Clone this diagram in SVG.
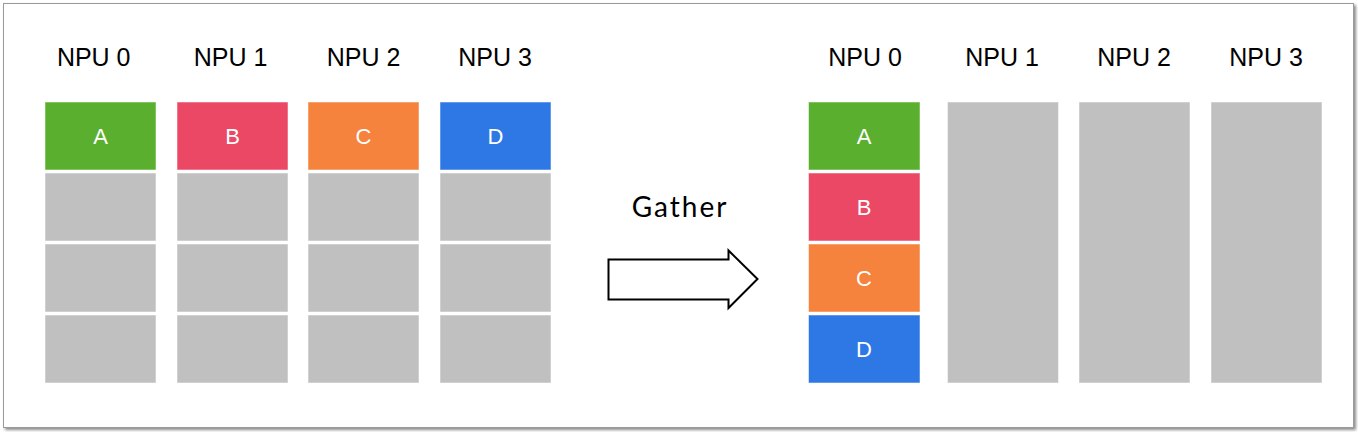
<svg xmlns="http://www.w3.org/2000/svg" width="1358" height="432" viewBox="0 0 1358 432">
<defs>
<filter id="sh" x="-5%" y="-5%" width="110%" height="115%"><feDropShadow dx="2" dy="2" stdDeviation="1.5" flood-color="#000" flood-opacity="0.45"/></filter>
<style>
.lbl{font-family:"Liberation Sans",Arial,sans-serif;font-size:25px;fill:#000;text-anchor:middle}
.cl{font-family:"Liberation Sans",Arial,sans-serif;font-size:22px;fill:#fff;text-anchor:middle}
.c{stroke:#ffffff;stroke-opacity:0.5;stroke-width:1}
.g{fill:#c0c0c0}.A{fill:#5baf2e}.B{fill:#eb4866}.C{fill:#f5823d}.D{fill:#2e78e6}
</style>
</defs>
<rect x="3.5" y="3.5" width="1350" height="424" fill="#fff" stroke="#9a9a9a" stroke-width="1" filter="url(#sh)"/>
<g id="left-npu0">
<text class="lbl" x="93.7" y="65.5">NPU 0</text>
<rect class="c A" x="45" y="102" width="111" height="68"/><text class="cl" x="100.5" y="144">A</text>
<rect class="c g" x="45" y="173" width="111" height="68"/>
<rect class="c g" x="45" y="244" width="111" height="68"/>
<rect class="c g" x="45" y="315" width="111" height="68"/>
</g>
<g id="left-npu1">
<text class="lbl" x="230.5" y="65.5">NPU 1</text>
<rect class="c B" x="177" y="102" width="111" height="68"/><text class="cl" x="232.5" y="144">B</text>
<rect class="c g" x="177" y="173" width="111" height="68"/>
<rect class="c g" x="177" y="244" width="111" height="68"/>
<rect class="c g" x="177" y="315" width="111" height="68"/>
</g>
<g id="left-npu2">
<text class="lbl" x="363.5" y="65.5">NPU 2</text>
<rect class="c C" x="308" y="102" width="111" height="68"/><text class="cl" x="363.5" y="144">C</text>
<rect class="c g" x="308" y="173" width="111" height="68"/>
<rect class="c g" x="308" y="244" width="111" height="68"/>
<rect class="c g" x="308" y="315" width="111" height="68"/>
</g>
<g id="left-npu3">
<text class="lbl" x="495" y="65.5">NPU 3</text>
<rect class="c D" x="440" y="102" width="111" height="68"/><text class="cl" x="495.5" y="144">D</text>
<rect class="c g" x="440" y="173" width="111" height="68"/>
<rect class="c g" x="440" y="244" width="111" height="68"/>
<rect class="c g" x="440" y="315" width="111" height="68"/>
</g>
<g id="gather">
<text x="680" y="217" font-family="Lato,'DejaVu Sans',sans-serif" font-size="28" letter-spacing="2" text-anchor="middle" fill="#000">Gather</text>
<path d="M608.5 259.5 H728.5 V250.5 L757.5 279 L728.5 308 V299.5 H608.5 Z" fill="#fff" stroke="#000" stroke-width="2" stroke-linejoin="miter"/>
</g>
<g id="right-npu0">
<text class="lbl" x="865" y="65.5">NPU 0</text>
<rect class="c A" x="808.5" y="102" width="111.5" height="68"/><text class="cl" x="864" y="144">A</text>
<rect class="c B" x="808.5" y="173" width="111.5" height="68"/><text class="cl" x="864" y="215">B</text>
<rect class="c C" x="808.5" y="244" width="111.5" height="68"/><text class="cl" x="864" y="286">C</text>
<rect class="c D" x="808.5" y="315" width="111.5" height="68"/><text class="cl" x="864" y="357">D</text>
</g>
<g id="right-npu1">
<text class="lbl" x="1002" y="65.5">NPU 1</text>
<rect class="c g" x="947.5" y="102" width="111" height="281"/>
</g>
<g id="right-npu2">
<text class="lbl" x="1134" y="65.5">NPU 2</text>
<rect class="c g" x="1079" y="102" width="111" height="281"/>
</g>
<g id="right-npu3">
<text class="lbl" x="1266" y="65.5">NPU 3</text>
<rect class="c g" x="1211" y="102" width="111" height="281"/>
</g>
<g id="connectors"></g>
</svg>
